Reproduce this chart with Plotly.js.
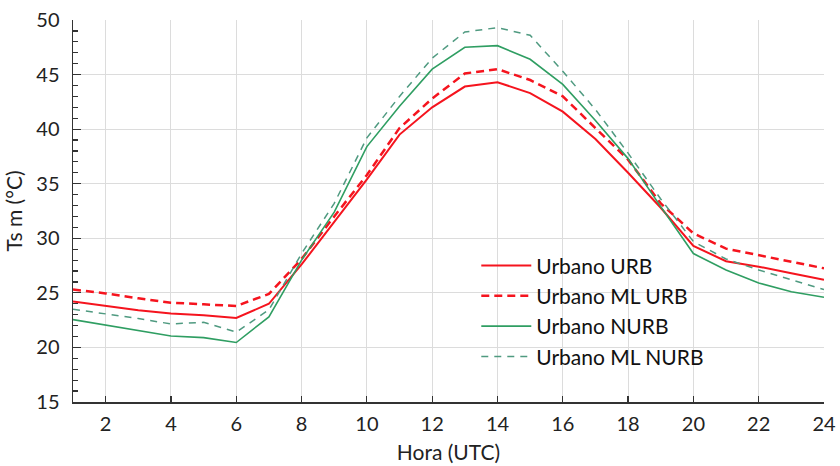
<!DOCTYPE html>
<html>
<head>
<meta charset="utf-8">
<script src="https://cdn.plot.ly/plotly-3.0.1.min.js"></script>
<style>html,body{margin:0;padding:0;background:#fff;}#chart{width:840px;height:466px;}</style>
</head>
<body>
<div id="chart"></div>
<script>
const hours = [1,2,3,4,5,6,7,8,9,10,11,12,13,14,15,16,17,18,19,20,21,22,23,24];
const urbanoURB = [24.2,23.8,23.4,23.1,22.95,22.7,24.0,27.6,31.5,35.4,39.5,42.0,43.9,44.3,43.3,41.6,39.1,36.0,32.8,29.3,27.9,27.4,26.8,26.2];
const urbanoMLURB = [25.3,24.95,24.5,24.1,23.95,23.8,24.9,28.1,32.0,35.8,40.1,42.8,45.1,45.5,44.5,43.0,40.1,37.2,33.2,30.45,29.05,28.45,27.85,27.25];
const urbanoNURB = [22.55,22.05,21.5,21.05,20.9,20.45,22.8,28.0,32.4,38.4,42.1,45.5,47.5,47.65,46.4,44.1,40.8,37.3,32.9,28.6,27.1,25.9,25.1,24.6];
const urbanoMLNURB = [23.5,23.1,22.65,22.15,22.3,21.4,23.45,28.6,33.2,39.2,43.0,46.5,48.9,49.3,48.6,45.3,41.8,37.8,33.6,29.7,28.1,27.1,26.2,25.3];
const seriesNames = ["Urbano URB","Urbano ML URB","Urbano NURB","Urbano ML NURB"];
const xTicks = [2,4,6,8,10,12,14,16,18,20,22,24];

const FONT = "Lato, 'Open Sans', sans-serif";
const styles = [
  {color:"#f5141e", width:2, dash:"solid"},
  {color:"#f5141e", width:2.5, dash:"8px,5px"},
  {color:"#2f9e62", width:1.6, dash:"solid"},
  {color:"#4f9a80", width:1.5, dash:"7px,6px"}
];
const ys = [urbanoURB, urbanoMLURB, urbanoNURB, urbanoMLNURB];
const traces = ys.map((y,i)=>({
  x: hours, y: y, type:"scatter", mode:"lines", name: seriesNames[i],
  legendgroup: "g"+i,
  line: {color: styles[i].color, width: styles[i].width, dash: styles[i].dash}
}));

const layout = {
  width: 840, height: 466,
  margin: {l:73, r:16, t:20, b:64},
  paper_bgcolor: "#fff", plot_bgcolor: "#fff",
  font: {family: FONT, size: 20, color: "#222"},
  showlegend: true,
  legend: {x: 0.537, y: 0.41, xanchor:"left", yanchor:"top", bgcolor:"rgba(0,0,0,0)",
           font:{family:FONT, size:21, color:"#111"}, tracegroupgap: 0, itemwidth: 50},
  xaxis: {
    range: [1,24], tickvals: xTicks, ticktext: xTicks.map(String),
    ticks: "inside", ticklen: 6, tickcolor: "#333", tickwidth: 1.2,
    showline: true, linecolor: "#333", linewidth: 1.5,
    showgrid: true, gridcolor: "#dcdcdc", gridwidth: 1, zeroline: false,
    ticklabelstandoff: 3,
    tickfont: {family: FONT, size: 20, color:"#222"},
    title: {text: "Hora (UTC)", font: {family: FONT, size: 21, color:"#222"}, standoff: 12}
  },
  yaxis: {
    range: [15,50], dtick: 5, tick0: 15,
    ticks: "inside", ticklen: 8, tickcolor: "#333", tickwidth: 1.2,
    minor: {dtick: 1, ticks: "inside", ticklen: 5, tickcolor: "#333", showgrid: false},
    showline: true, linecolor: "#333", linewidth: 1.5,
    showgrid: true, gridcolor: "#dcdcdc", gridwidth: 1, zeroline: false,
    ticklabelstandoff: 8,
    tickfont: {family: FONT, size: 20, color:"#222"},
    title: {text: "Ts m (°C)", font: {family: FONT, size: 21, color:"#222"}, standoff: 8}
  }
};
Plotly.newPlot("chart", traces, layout, {displayModeBar:false, staticPlot:true});
</script>
</body>
</html>
